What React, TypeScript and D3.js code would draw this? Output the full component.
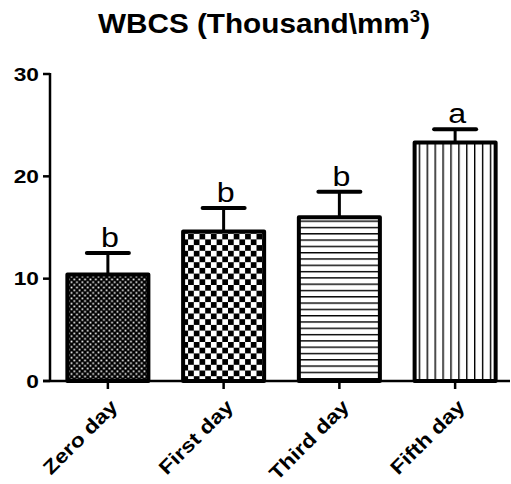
import * as d3 from "d3";
import React, { useRef, useEffect } from "react";

const width = 511;
const height = 484;

// data
const days = ["Zero day", "First day", "Third day", "Fifth day"];
const means = [10.4, 14.6, 16.0, 23.3];
const errors = [2.1, 2.3, 2.5, 1.3];
const letters = ["b", "b", "b", "a"];
const yTicks = [0, 10, 20, 30];
const patterns = ["fineCheck", "bigCheck", "hLines", "vLines"];

export default function App() {
  const ref = useRef(null);

  useEffect(() => {
    const svg = d3.select(ref.current);
    svg.selectAll("*").remove();
    svg.attr("width", width).attr("height", height);

    const font = "Arial, 'Liberation Sans', sans-serif";

    // patterns for the bars
    const defs = svg.append("defs");
    const fc = 2.7;
    const p1 = defs
      .append("pattern")
      .attr("id", "fineCheck")
      .attr("patternUnits", "userSpaceOnUse")
      .attr("width", fc * 2)
      .attr("height", fc * 2);
    p1.append("rect").attr("width", fc * 2).attr("height", fc * 2).attr("fill", "black");
    p1.append("rect").attr("x", 0.5).attr("y", 0.5).attr("width", fc - 1).attr("height", fc - 1).attr("fill", "white");
    p1.append("rect").attr("x", fc + 0.5).attr("y", fc + 0.5).attr("width", fc - 1).attr("height", fc - 1).attr("fill", "white");

    const bc = 5.7;
    const p2 = defs
      .append("pattern")
      .attr("id", "bigCheck")
      .attr("patternUnits", "userSpaceOnUse")
      .attr("width", bc * 2)
      .attr("height", bc * 2);
    p2.append("rect").attr("width", bc * 2).attr("height", bc * 2).attr("fill", "white");
    p2.append("rect").attr("width", bc).attr("height", bc).attr("fill", "black");
    p2.append("rect").attr("x", bc).attr("y", bc).attr("width", bc).attr("height", bc).attr("fill", "black");

    const p3 = defs
      .append("pattern")
      .attr("id", "hLines")
      .attr("patternUnits", "userSpaceOnUse")
      .attr("width", 10)
      .attr("height", 6.3);
    p3.append("rect").attr("width", 10).attr("height", 6.3).attr("fill", "white");
    p3.append("rect").attr("y", 0).attr("width", 10).attr("height", 1.4).attr("fill", "black");

    const p4 = defs
      .append("pattern")
      .attr("id", "vLines")
      .attr("patternUnits", "userSpaceOnUse")
      .attr("width", 7.9)
      .attr("height", 10);
    p4.append("rect").attr("width", 7.9).attr("height", 10).attr("fill", "white");
    p4.append("rect").attr("x", 0).attr("width", 1.4).attr("height", 10).attr("fill", "black");

    // scales
    const x = d3.scaleBand().domain(days).range([50, 513]).paddingInner(0.3).paddingOuter(0.15);
    const y = d3.scaleLinear().domain([0, 30]).range([381, 74]);

    // Title
    const title = svg
      .append("text")
      .attr("transform", `translate(264,33) scale(1.1,1)`)
      .attr("text-anchor", "middle")
      .style("font-family", font)
      .style("font-weight", "bold")
      .style("font-size", "27px");
    title.append("tspan").text("WBCS (Thousand\\mm");
    title.append("tspan").attr("dy", -11).style("font-size", "17px").text("3");
    title.append("tspan").attr("dy", 11).text(")");

    // Bars
    svg
      .append("g")
      .selectAll("rect")
      .data(days)
      .join("rect")
      .attr("x", (d) => x(d)!)
      .attr("y", (d, i) => y(means[i]))
      .attr("width", x.bandwidth())
      .attr("height", (d, i) => y(0) - y(means[i]))
      .attr("fill", (d, i) => `url(#${patterns[i]})`)
      .attr("stroke", "black")
      .attr("stroke-width", 4)
      .attr("stroke-linejoin", "round");

    // Error bars (upper only)
    const eb = svg.append("g").attr("stroke", "black");
    days.forEach((d, i) => {
      const cx = x(d)! + x.bandwidth() / 2;
      eb.append("line")
        .attr("x1", cx)
        .attr("x2", cx)
        .attr("y1", y(means[i]))
        .attr("y2", y(means[i] + errors[i]))
        .attr("stroke-width", 3);
      eb.append("line")
        .attr("x1", cx - 21)
        .attr("x2", cx + 21)
        .attr("y1", y(means[i] + errors[i]))
        .attr("y2", y(means[i] + errors[i]))
        .attr("stroke-width", 4)
        .attr("stroke-linecap", "round");
    });

    // Significance letters
    svg
      .append("g")
      .selectAll("text")
      .data(days)
      .join("text")
      .attr("transform", (d, i) => `translate(${x(d)! + x.bandwidth() / 2 + 2},${y(means[i] + errors[i]) - 6}) scale(1.15,1)`)
      .attr("text-anchor", "middle")
      .style("font-family", font)
      .style("font-size", "28px")
      .text((d, i) => letters[i]);

    // Y axis
    const ya = svg.append("g").attr("stroke", "black");
    ya.append("line").attr("x1", 50).attr("x2", 50).attr("y1", y(30) - 1).attr("y2", y(0)).attr("stroke-width", 2.5);
    yTicks.forEach((t) => {
      ya.append("line").attr("x1", 43).attr("x2", 50).attr("y1", y(t)).attr("y2", y(t)).attr("stroke-width", 2.5);
    });
    svg
      .append("g")
      .selectAll("text")
      .data(yTicks)
      .join("text")
      .attr("transform", (d) => `translate(39,${y(d) + 6.5}) scale(1.3,1)`)
      .attr("text-anchor", "end")
      .style("font-family", font)
      .style("font-weight", "bold")
      .style("font-size", "17.5px")
      .text((d) => d);

    // X axis
    const xa = svg.append("g").attr("stroke", "black");
    xa.append("line").attr("x1", 43).attr("x2", 510).attr("y1", y(0)).attr("y2", y(0)).attr("stroke-width", 2.5);
    days.forEach((d) => {
      const cx = x(d)! + x.bandwidth() / 2;
      xa.append("line").attr("x1", cx).attr("x2", cx).attr("y1", y(0)).attr("y2", y(0) + 8).attr("stroke-width", 2.5);
    });
    svg
      .append("g")
      .selectAll("text")
      .data(days)
      .join("text")
      .attr("transform", (d) => `translate(${x(d)! + x.bandwidth() / 2 + 11},${y(0) + 27}) rotate(-45) scale(1.18,1)`)
      .attr("text-anchor", "end")
      .style("font-family", font)
      .style("font-weight", "bold")
      .style("font-size", "19.5px")
      .text((d) => d);
  }, []);

  return <svg ref={ref} style={{ display: "block", position: "absolute", left: 0, top: 0 }}></svg>;
}
